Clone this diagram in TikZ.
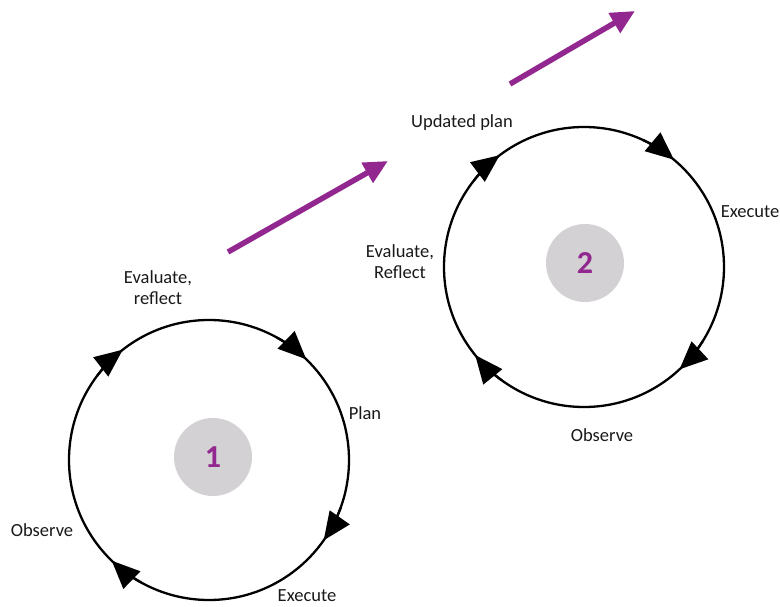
\documentclass[tikz,border=0pt]{standalone}
\usepackage{fontspec}
\setmainfont{Carlito}
\usetikzlibrary{arrows.meta}
\definecolor{plum}{RGB}{146,39,143}
\definecolor{disc}{RGB}{211,209,211}
\definecolor{txt}{RGB}{25,25,25}
\tikzset{
  cyc/.style={draw=black, line width=2.3pt},
  tipmark/.style={draw=black, line width=2.3pt, -{Triangle[length=28pt,width=24pt]}},
  hub/.style={circle, fill=disc, minimum size=78pt, inner sep=0pt, text=plum, font=\bfseries\fontsize{32}{34}\selectfont},
  lbl/.style={text=txt, font=\fontsize{18.5}{21}\selectfont, align=center, inner sep=1pt},
  bigarrow/.style={draw=plum, line width=5.5pt, -{Triangle[length=24pt,width=22pt]}},
}
\newcommand{\cyctip}[3]{% center name, radius, angle
  \draw[tipmark] ([shift={(#3+9:#2)}]#1) arc (#3+9:#3-6:#2);
}
\begin{document}
\begin{tikzpicture}[x=1pt,y=1pt]
\useasboundingbox (0,0) rectangle (780,606);
% cycle 1
\coordinate (c1) at (209,146);
\draw[cyc] (c1) circle (140);
\node[hub] (n1) at (213,149) {1};
\cyctip{c1}{140}{52}
\cyctip{c1}{140}{-29}
\cyctip{c1}{140}{-128}
\cyctip{c1}{140}{134}
\node[lbl] (e1) at (158,318) {Evaluate,\\reflect};
\node[lbl] (p1) at (365,193) {Plan};
\node[lbl] (o1) at (42,76) {Observe};
\node[lbl, anchor=south] (x1) at (307,3) {Execute};
% cycle 2
\coordinate (c2) at (584,339);
\draw[cyc] (c2) circle (140);
\node[hub] (n2) at (585,343) {2};
\cyctip{c2}{140}{56}
\cyctip{c2}{140}{-41}
\cyctip{c2}{140}{-135}
\cyctip{c2}{140}{133}
\node[lbl] (u2) at (462,483) {Updated plan};
\node[lbl] (x2) at (750,394) {Execute};
\node[lbl] (e2) at (400,344) {Evaluate,\\Reflect};
\node[lbl] (o2) at (602,171) {Observe};
% progress arrows
\coordinate (a1s) at (228,354);
\coordinate (a1e) at (388,445);
\coordinate (a2s) at (510,522);
\coordinate (a2e) at (635,595);
\draw[bigarrow] (a1s) -- (a1e);
\draw[bigarrow] (a2s) -- (a2e);
\end{tikzpicture}
\end{document}
